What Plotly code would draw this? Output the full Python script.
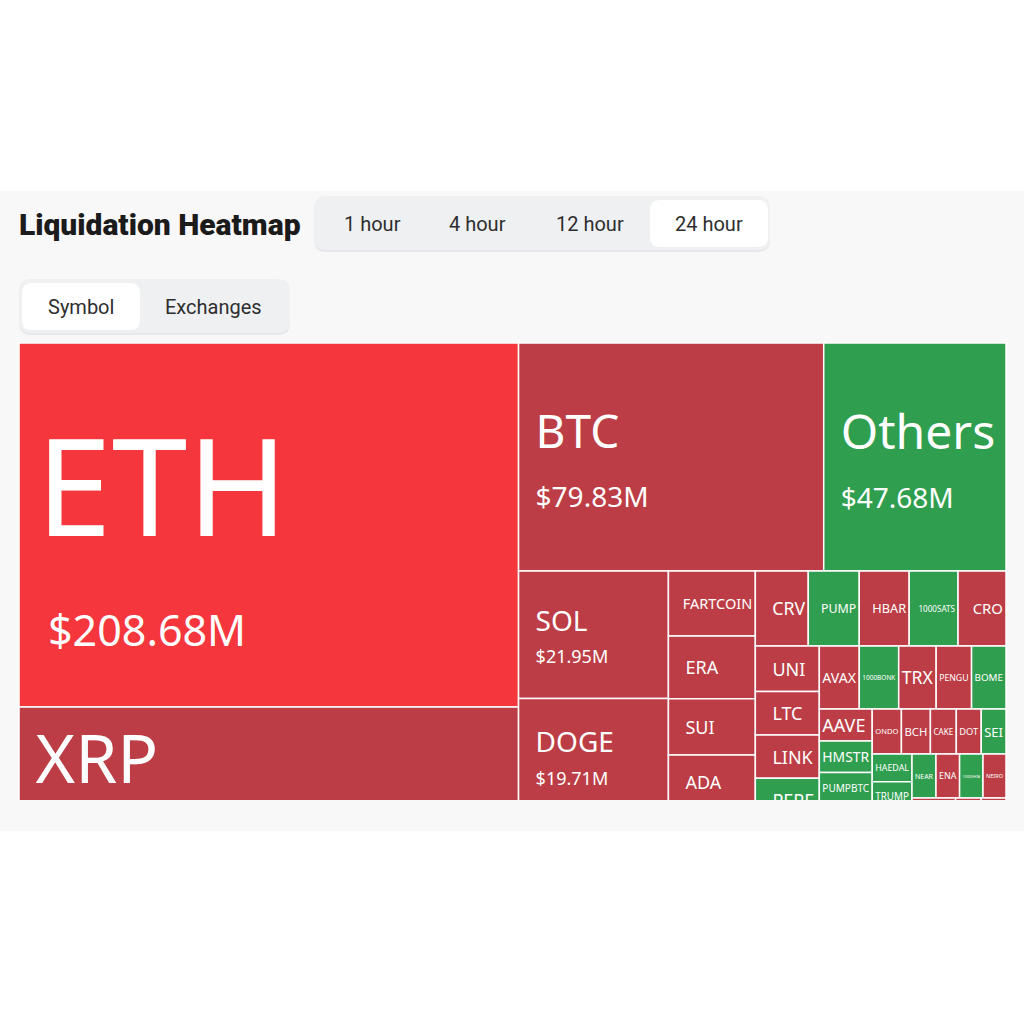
import plotly.graph_objects as go

# ---------------- data ($M liquidated, 24h) ----------------
symbols = ["ETH", "XRP", "BTC", "Others", "SOL", "DOGE", "HYPE",
           "FARTCOIN", "ERA", "SUI", "ADA", "BNB",
           "CRV", "PUMP", "HBAR", "1000SATS", "CRO",
           "UNI", "LTC", "LINK", "PEPE", "WIF",
           "AVAX", "1000BONK", "TRX", "PENGU", "BOME",
           "AAVE", "HMSTR", "PUMPBTC", "ARB", "TAO",
           "ONDO", "BCH", "CAKE", "DOT", "SEI",
           "HAEDAL", "TRUMP", "APT", "LDO",
           "NEAR", "ENA", "1000SHIB", "NEIRO",
           "FIL", "INJ", "TIA", "WLD", "JUP", "ETC", "XLM"]
liq_musd = [208.68, 90.01, 79.83, 47.68, 21.95, 19.71, 8.75,
            6.48, 6.28, 5.59, 5.50, 5.38,
            4.56, 4.39, 4.30, 4.21, 4.13,
            3.34, 3.19, 3.18, 3.16, 3.14,
            2.89, 2.85, 2.71, 2.56, 2.49,
            1.94, 1.91, 1.88, 1.85, 1.83,
            1.51, 1.50, 1.34, 1.29, 1.28,
            1.27, 1.26, 1.25, 1.24,
            1.21, 1.19, 1.18, 1.16,
            1.15, 1.10, 1.05, 1.00, 0.97, 0.95, 0.90]
# "up" = green tile, "down" = red tile, "hot" = highlighted red
direction = ["hot", "down", "down", "up", "down", "down", "down",
             "down", "down", "down", "down", "down",
             "down", "up", "down", "up", "down",
             "down", "down", "down", "up", "down",
             "down", "up", "down", "down", "up",
             "down", "up", "up", "down", "down",
             "down", "down", "down", "down", "up",
             "up", "up", "down", "down",
             "up", "down", "up", "down",
             "down", "down", "down", "down", "down", "down", "down"]
time_tabs = ["1 hour", "4 hour", "12 hour", "24 hour"]
view_tabs = ["Symbol", "Exchanges"]

# ---------------- styling ----------------
PALETTE = {"hot": "#f5363c", "down": "#bc3d45", "up": "#2f9e4f"}
colors = [PALETTE[d] for d in direction]

# label font, value font, line-gap base font (px)
label_px = {"ETH": 136, "XRP": 70, "BTC": 46, "Others": 48, "SOL": 28, "DOGE": 28, "HYPE": 24}
value_px = {"ETH": 43, "XRP": 38, "BTC": 28, "Others": 28, "SOL": 18, "DOGE": 18, "HYPE": 16}
base_px = {"ETH": 85, "XRP": 54, "BTC": 45, "Others": 46, "SOL": 25, "DOGE": 25, "HYPE": 22}
PAD = "<span style='font-size:18px'>\u00a0\u00a0\u00a0</span>"
VALUE_EXTRA_PAD = {"ETH": "<span style='font-size:23px'>\u00a0\u00a0</span>"}
N_PADDED = 22

templates, base_sizes = [], []
for i, s in enumerate(symbols):
    pad = PAD if i < N_PADDED else ""
    if s in label_px:
        vpad = pad + VALUE_EXTRA_PAD.get(s, "")
        templates.append(
            f"{pad}<span style='font-size:{label_px[s]}px'>%{{label}}</span><br>"
            f"{vpad}<span style='font-size:{value_px[s]}px'>$%{{value:.2f}}M</span>")
        base_sizes.append(base_px[s])
    else:
        templates.append(f"{pad}%{{label}}")
        base_sizes.append(18)

W = H = 1024


def px(x):
    return x / W


def py(y):
    return 1 - y / H


TM_L, TM_R, TM_T, TM_B = 19, 1006, 343, 864

fig = go.Figure(go.Treemap(
    labels=symbols,
    parents=[""] * len(symbols),
    values=liq_musd,
    sort=True,
    tiling=dict(packing="squarify", squarifyratio=1.618034, pad=0),
    marker=dict(colors=colors, line=dict(color="white", width=1.5),
                pad=dict(t=0, l=0, r=0, b=0)),
    texttemplate=templates,
    textposition="middle left",
    textfont=dict(family="Noto Sans", color="white", size=base_sizes),
    pathbar=dict(visible=False),
    hoverinfo="skip",
    domain=dict(x=[px(TM_L), px(TM_R)], y=[py(TM_B), py(TM_T)]),
))


def rrect(x0, y0, x1, y1, r):
    pts = [
        f"M {px(x0 + r)},{py(y0)}",
        f"L {px(x1 - r)},{py(y0)}",
        f"Q {px(x1)},{py(y0)} {px(x1)},{py(y0 + r)}",
        f"L {px(x1)},{py(y1 - r)}",
        f"Q {px(x1)},{py(y1)} {px(x1 - r)},{py(y1)}",
        f"L {px(x0 + r)},{py(y1)}",
        f"Q {px(x0)},{py(y1)} {px(x0)},{py(y1 - r)}",
        f"L {px(x0)},{py(y0 + r)}",
        f"Q {px(x0)},{py(y0)} {px(x0 + r)},{py(y0)}",
        "Z",
    ]
    return " ".join(pts)


PANEL = "#f8f8f8"
GROUP = "#eef0f2"
shapes = [
    dict(type="rect", xref="paper", yref="paper", x0=0, x1=1, y0=py(831), y1=py(191),
         fillcolor=PANEL, line=dict(width=0), layer="below"),
    # time tab group (shadow + body + active)
    dict(type="path", xref="paper", yref="paper", path=rrect(314, 198, 770, 252, 12),
         fillcolor="#e6e8eb", line=dict(width=0), layer="below"),
    dict(type="path", xref="paper", yref="paper", path=rrect(314, 196, 770, 250, 12),
         fillcolor=GROUP, line=dict(width=0), layer="below"),
    dict(type="path", xref="paper", yref="paper", path=rrect(650, 200, 768, 247, 10),
         fillcolor="white", line=dict(width=0), layer="below"),
    # view tab group
    dict(type="path", xref="paper", yref="paper", path=rrect(19, 281, 290, 335, 12),
         fillcolor="#e6e8eb", line=dict(width=0), layer="below"),
    dict(type="path", xref="paper", yref="paper", path=rrect(19, 279, 290, 333, 12),
         fillcolor=GROUP, line=dict(width=0), layer="below"),
    dict(type="path", xref="paper", yref="paper", path=rrect(22, 283, 140, 330, 10),
         fillcolor="white", line=dict(width=0), layer="below"),
    # viewport crop of the treemap container
    dict(type="rect", xref="paper", yref="paper", x0=0, x1=1, y0=py(831), y1=py(800),
         fillcolor=PANEL, line=dict(width=0), layer="above"),
    dict(type="rect", xref="paper", yref="paper", x0=0, x1=1, y0=0, y1=py(831),
         fillcolor="white", line=dict(width=0), layer="above"),
]

annotations = [
    dict(text="Liquidation Heatmap", x=px(17), y=py(224), xref="paper", yref="paper",
         xanchor="left", yanchor="middle", showarrow=False,
         font=dict(family="Roboto", size=30, color="#1b1b1b", weight=900)),
]
for t, cx in zip(time_tabs, [372, 477, 590, 709]):
    annotations.append(dict(text=t, x=px(cx), y=py(224), xref="paper", yref="paper",
                            xanchor="center", yanchor="middle", showarrow=False,
                            font=dict(family="Roboto", size=20, color="#2e2e2e")))
for t, cx in zip(view_tabs, [81, 213]):
    annotations.append(dict(text=t, x=px(cx), y=py(307), xref="paper", yref="paper",
                            xanchor="center", yanchor="middle", showarrow=False,
                            font=dict(family="Roboto", size=20, color="#2e2e2e")))

fig.update_layout(
    width=W, height=H, autosize=False,
    margin=dict(l=0, r=0, t=0, b=0),
    paper_bgcolor="white",
    shapes=shapes,
    annotations=annotations,
    showlegend=False,
)

fig.write_html("out.html")
